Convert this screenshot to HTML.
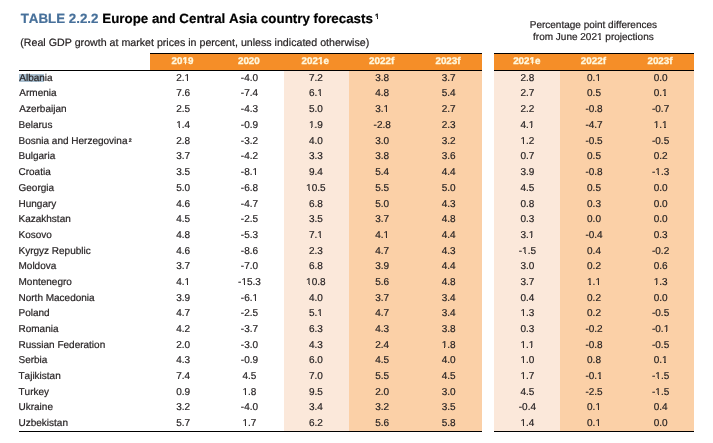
<!DOCTYPE html>
<html><head><meta charset="utf-8"><style>
*{margin:0;padding:0;box-sizing:border-box}
html,body{width:713px;height:443px;overflow:hidden;background:#fff}
body{position:relative;text-rendering:geometricPrecision;font-kerning:none;font-family:"Liberation Sans",Arial,Helvetica,sans-serif;color:#231f20}
.a{position:absolute}
.t{position:absolute;white-space:nowrap;line-height:0;-webkit-text-stroke:0.2px currentColor}
.t>span{display:inline-block;}
.c{text-align:center}
.h{font-weight:bold;color:#fff7dc;font-size:9.8px;-webkit-text-stroke:0.35px currentColor}
.d{font-size:10px}
.lab{font-size:10px}
.rh{transform:scaleY(1);transform-origin:50% 2px}
.st{-webkit-text-stroke:0.2px currentColor}
.t .o{position:relative;display:inline}
.o::before,.o::after{content:"";position:absolute;bottom:calc(0.212em + 1px);height:0.09em;background:var(--bg)}
.o::before{left:0.03em;width:0.215em}
.o::after{left:0.352em;width:0.2em}
.h .o::before,.h .o::after,.bw .o::before,.bw .o::after{height:0.2em;bottom:calc(0.212em - 0.2px)}
.h .o::before,.bw .o::before{left:0.02em;width:0.205em}
.h .o::after,.bw .o::after{left:0.38em;width:0.2em}
.bw .o::after{width:0.3em}
.bw .o::before,.bw .o::after{height:0.3em;bottom:calc(0.212em - 0.5px)}
</style></head><body><div id="w" style="position:absolute;left:0;top:0;width:713px;height:443px;filter:blur(0.35px)">

<div class="a" style="left:284px;top:71px;width:65px;height:359.5px;background:#fbe8da"></div>
<div class="a" style="left:349px;top:71px;width:133px;height:359.5px;background:#fbd0a7"></div>
<div class="a" style="left:494px;top:71px;width:66px;height:359.5px;background:#fbe8da"></div>
<div class="a" style="left:560px;top:71px;width:134px;height:359.5px;background:#fbd0a7"></div>
<div class="a" style="left:150px;top:54px;width:332px;height:16px;background:#f58e28"></div>
<div class="a" style="left:494px;top:54px;width:200px;height:16px;background:#f58e28"></div>
<div class="a" style="left:150px;top:53px;width:332px;height:1px;background:#000"></div>
<div class="a" style="left:494px;top:53px;width:200px;height:1px;background:#000"></div>
<div class="a" style="left:19px;top:70px;width:463px;height:1px;background:#000"></div>
<div class="a" style="left:494px;top:70px;width:200px;height:1px;background:#000"></div>
<div class="a" style="left:19px;top:430.5px;width:463px;height:1.5px;background:#000"></div>
<div class="a" style="left:494px;top:430.5px;width:200px;height:1.5px;background:#000"></div>
<div class="a" style="left:19px;top:73.5px;width:25px;height:8.5px;background:#a9bfd0"></div>
<div class="t h" style="left:152.49px;top:62px;width:60px;text-align:center;--bg:#f58e28">20<span class="o">1</span>9</div>
<div class="t h" style="left:218.87px;top:62px;width:60px;text-align:center">2020</div>
<div class="t h" style="left:285.25px;top:62px;width:60px;text-align:center;--bg:#f58e28">202<span class="o">1</span>e</div>
<div class="t h" style="left:351.63px;top:62px;width:60px;text-align:center">2022f</div>
<div class="t h" style="left:418.01px;top:62px;width:60px;text-align:center">2023f</div>
<div class="t h" style="left:496.8px;top:62px;width:60px;text-align:center;--bg:#f58e28">202<span class="o">1</span>e</div>
<div class="t h" style="left:563.4px;top:62px;width:60px;text-align:center">2022f</div>
<div class="t h" style="left:630px;top:62px;width:60px;text-align:center">2023f</div>
<div class="t lab" style="left:19.3px;top:79px">Albania</div>
<div class="t d" style="left:153.09px;top:79px;width:60px;text-align:center;--bg:#fff">2.<span class="o">1</span></div>
<div class="t d" style="left:219.47px;top:79px;width:60px;text-align:center">-4.0</div>
<div class="t d" style="left:285.85px;top:79px;width:60px;text-align:center">7.2</div>
<div class="t d" style="left:352.23px;top:79px;width:60px;text-align:center">3.8</div>
<div class="t d" style="left:418.61px;top:79px;width:60px;text-align:center">3.7</div>
<div class="t d" style="left:497.4px;top:79px;width:60px;text-align:center">2.8</div>
<div class="t d" style="left:564px;top:79px;width:60px;text-align:center;--bg:#fbd0a7">0.<span class="o">1</span></div>
<div class="t d" style="left:630.6px;top:79px;width:60px;text-align:center">0.0</div>
<div class="t lab" style="left:19.3px;top:94px">Armenia</div>
<div class="t d" style="left:153.09px;top:94px;width:60px;text-align:center">7.6</div>
<div class="t d" style="left:219.47px;top:94px;width:60px;text-align:center">-7.4</div>
<div class="t d" style="left:285.85px;top:94px;width:60px;text-align:center;--bg:#fbe8da">6.<span class="o">1</span></div>
<div class="t d" style="left:352.23px;top:94px;width:60px;text-align:center">4.8</div>
<div class="t d" style="left:418.61px;top:94px;width:60px;text-align:center">5.4</div>
<div class="t d" style="left:497.4px;top:94px;width:60px;text-align:center">2.7</div>
<div class="t d" style="left:564px;top:94px;width:60px;text-align:center">0.5</div>
<div class="t d" style="left:630.6px;top:94px;width:60px;text-align:center;--bg:#fbd0a7">0.<span class="o">1</span></div>
<div class="t lab" style="left:19.3px;top:110px">Azerbaijan</div>
<div class="t d" style="left:153.09px;top:110px;width:60px;text-align:center">2.5</div>
<div class="t d" style="left:219.47px;top:110px;width:60px;text-align:center">-4.3</div>
<div class="t d" style="left:285.85px;top:110px;width:60px;text-align:center">5.0</div>
<div class="t d" style="left:352.23px;top:110px;width:60px;text-align:center;--bg:#fbd0a7">3.<span class="o">1</span></div>
<div class="t d" style="left:418.61px;top:110px;width:60px;text-align:center">2.7</div>
<div class="t d" style="left:497.4px;top:110px;width:60px;text-align:center">2.2</div>
<div class="t d" style="left:564px;top:110px;width:60px;text-align:center">-0.8</div>
<div class="t d" style="left:630.6px;top:110px;width:60px;text-align:center">-0.7</div>
<div class="t lab" style="left:18.5px;top:126px">Belarus</div>
<div class="t d" style="left:153.09px;top:126px;width:60px;text-align:center;--bg:#fff"><span class="o">1</span>.4</div>
<div class="t d" style="left:219.47px;top:126px;width:60px;text-align:center">-0.9</div>
<div class="t d" style="left:285.85px;top:126px;width:60px;text-align:center;--bg:#fbe8da"><span class="o">1</span>.9</div>
<div class="t d" style="left:352.23px;top:126px;width:60px;text-align:center">-2.8</div>
<div class="t d" style="left:418.61px;top:126px;width:60px;text-align:center">2.3</div>
<div class="t d" style="left:497.4px;top:126px;width:60px;text-align:center;--bg:#fbe8da">4.<span class="o">1</span></div>
<div class="t d" style="left:564px;top:126px;width:60px;text-align:center">-4.7</div>
<div class="t d" style="left:630.6px;top:126px;width:60px;text-align:center;--bg:#fbd0a7"><span class="o">1</span>.<span class="o">1</span></div>
<div class="t lab" style="left:18.5px;top:142px">Bosnia and Herzegovina<span style="font-size:5.2px;font-weight:bold;position:relative;top:-2.4px;margin-left:1.2px">2</span></div>
<div class="t d" style="left:153.09px;top:142px;width:60px;text-align:center">2.8</div>
<div class="t d" style="left:219.47px;top:142px;width:60px;text-align:center">-3.2</div>
<div class="t d" style="left:285.85px;top:142px;width:60px;text-align:center">4.0</div>
<div class="t d" style="left:352.23px;top:142px;width:60px;text-align:center">3.0</div>
<div class="t d" style="left:418.61px;top:142px;width:60px;text-align:center">3.2</div>
<div class="t d" style="left:497.4px;top:142px;width:60px;text-align:center;--bg:#fbe8da"><span class="o">1</span>.2</div>
<div class="t d" style="left:564px;top:142px;width:60px;text-align:center">-0.5</div>
<div class="t d" style="left:630.6px;top:142px;width:60px;text-align:center">-0.5</div>
<div class="t lab" style="left:18.5px;top:157px">Bulgaria</div>
<div class="t d" style="left:153.09px;top:157px;width:60px;text-align:center">3.7</div>
<div class="t d" style="left:219.47px;top:157px;width:60px;text-align:center">-4.2</div>
<div class="t d" style="left:285.85px;top:157px;width:60px;text-align:center">3.3</div>
<div class="t d" style="left:352.23px;top:157px;width:60px;text-align:center">3.8</div>
<div class="t d" style="left:418.61px;top:157px;width:60px;text-align:center">3.6</div>
<div class="t d" style="left:497.4px;top:157px;width:60px;text-align:center">0.7</div>
<div class="t d" style="left:564px;top:157px;width:60px;text-align:center">0.5</div>
<div class="t d" style="left:630.6px;top:157px;width:60px;text-align:center">0.2</div>
<div class="t lab" style="left:18.5px;top:173px">Croatia</div>
<div class="t d" style="left:153.09px;top:173px;width:60px;text-align:center">3.5</div>
<div class="t d" style="left:219.47px;top:173px;width:60px;text-align:center;--bg:#fff">-8.<span class="o">1</span></div>
<div class="t d" style="left:285.85px;top:173px;width:60px;text-align:center">9.4</div>
<div class="t d" style="left:352.23px;top:173px;width:60px;text-align:center">5.4</div>
<div class="t d" style="left:418.61px;top:173px;width:60px;text-align:center">4.4</div>
<div class="t d" style="left:497.4px;top:173px;width:60px;text-align:center">3.9</div>
<div class="t d" style="left:564px;top:173px;width:60px;text-align:center">-0.8</div>
<div class="t d" style="left:630.6px;top:173px;width:60px;text-align:center;--bg:#fbd0a7">-<span class="o">1</span>.3</div>
<div class="t lab" style="left:18.5px;top:189px">Georgia</div>
<div class="t d" style="left:153.09px;top:189px;width:60px;text-align:center">5.0</div>
<div class="t d" style="left:219.47px;top:189px;width:60px;text-align:center">-6.8</div>
<div class="t d" style="left:285.85px;top:189px;width:60px;text-align:center;--bg:#fbe8da"><span class="o">1</span>0.5</div>
<div class="t d" style="left:352.23px;top:189px;width:60px;text-align:center">5.5</div>
<div class="t d" style="left:418.61px;top:189px;width:60px;text-align:center">5.0</div>
<div class="t d" style="left:497.4px;top:189px;width:60px;text-align:center">4.5</div>
<div class="t d" style="left:564px;top:189px;width:60px;text-align:center">0.5</div>
<div class="t d" style="left:630.6px;top:189px;width:60px;text-align:center">0.0</div>
<div class="t lab" style="left:18.5px;top:205px">Hungary</div>
<div class="t d" style="left:153.09px;top:205px;width:60px;text-align:center">4.6</div>
<div class="t d" style="left:219.47px;top:205px;width:60px;text-align:center">-4.7</div>
<div class="t d" style="left:285.85px;top:205px;width:60px;text-align:center">6.8</div>
<div class="t d" style="left:352.23px;top:205px;width:60px;text-align:center">5.0</div>
<div class="t d" style="left:418.61px;top:205px;width:60px;text-align:center">4.3</div>
<div class="t d" style="left:497.4px;top:205px;width:60px;text-align:center">0.8</div>
<div class="t d" style="left:564px;top:205px;width:60px;text-align:center">0.3</div>
<div class="t d" style="left:630.6px;top:205px;width:60px;text-align:center">0.0</div>
<div class="t lab" style="left:18.5px;top:220px">Kazakhstan</div>
<div class="t d" style="left:153.09px;top:220px;width:60px;text-align:center">4.5</div>
<div class="t d" style="left:219.47px;top:220px;width:60px;text-align:center">-2.5</div>
<div class="t d" style="left:285.85px;top:220px;width:60px;text-align:center">3.5</div>
<div class="t d" style="left:352.23px;top:220px;width:60px;text-align:center">3.7</div>
<div class="t d" style="left:418.61px;top:220px;width:60px;text-align:center">4.8</div>
<div class="t d" style="left:497.4px;top:220px;width:60px;text-align:center">0.3</div>
<div class="t d" style="left:564px;top:220px;width:60px;text-align:center">0.0</div>
<div class="t d" style="left:630.6px;top:220px;width:60px;text-align:center">0.0</div>
<div class="t lab" style="left:18.5px;top:236px">Kosovo</div>
<div class="t d" style="left:153.09px;top:236px;width:60px;text-align:center">4.8</div>
<div class="t d" style="left:219.47px;top:236px;width:60px;text-align:center">-5.3</div>
<div class="t d" style="left:285.85px;top:236px;width:60px;text-align:center;--bg:#fbe8da">7.<span class="o">1</span></div>
<div class="t d" style="left:352.23px;top:236px;width:60px;text-align:center;--bg:#fbd0a7">4.<span class="o">1</span></div>
<div class="t d" style="left:418.61px;top:236px;width:60px;text-align:center">4.4</div>
<div class="t d" style="left:497.4px;top:236px;width:60px;text-align:center;--bg:#fbe8da">3.<span class="o">1</span></div>
<div class="t d" style="left:564px;top:236px;width:60px;text-align:center">-0.4</div>
<div class="t d" style="left:630.6px;top:236px;width:60px;text-align:center">0.3</div>
<div class="t lab" style="left:18.5px;top:252px">Kyrgyz Republic</div>
<div class="t d" style="left:153.09px;top:252px;width:60px;text-align:center">4.6</div>
<div class="t d" style="left:219.47px;top:252px;width:60px;text-align:center">-8.6</div>
<div class="t d" style="left:285.85px;top:252px;width:60px;text-align:center">2.3</div>
<div class="t d" style="left:352.23px;top:252px;width:60px;text-align:center">4.7</div>
<div class="t d" style="left:418.61px;top:252px;width:60px;text-align:center">4.3</div>
<div class="t d" style="left:497.4px;top:252px;width:60px;text-align:center;--bg:#fbe8da">-<span class="o">1</span>.5</div>
<div class="t d" style="left:564px;top:252px;width:60px;text-align:center">0.4</div>
<div class="t d" style="left:630.6px;top:252px;width:60px;text-align:center">-0.2</div>
<div class="t lab" style="left:18.5px;top:267px">Moldova</div>
<div class="t d" style="left:153.09px;top:267px;width:60px;text-align:center">3.7</div>
<div class="t d" style="left:219.47px;top:267px;width:60px;text-align:center">-7.0</div>
<div class="t d" style="left:285.85px;top:267px;width:60px;text-align:center">6.8</div>
<div class="t d" style="left:352.23px;top:267px;width:60px;text-align:center">3.9</div>
<div class="t d" style="left:418.61px;top:267px;width:60px;text-align:center">4.4</div>
<div class="t d" style="left:497.4px;top:267px;width:60px;text-align:center">3.0</div>
<div class="t d" style="left:564px;top:267px;width:60px;text-align:center">0.2</div>
<div class="t d" style="left:630.6px;top:267px;width:60px;text-align:center">0.6</div>
<div class="t lab" style="left:18.5px;top:283px">Montenegro</div>
<div class="t d" style="left:153.09px;top:283px;width:60px;text-align:center;--bg:#fff">4.<span class="o">1</span></div>
<div class="t d" style="left:219.47px;top:283px;width:60px;text-align:center;--bg:#fff">-<span class="o">1</span>5.3</div>
<div class="t d" style="left:285.85px;top:283px;width:60px;text-align:center;--bg:#fbe8da"><span class="o">1</span>0.8</div>
<div class="t d" style="left:352.23px;top:283px;width:60px;text-align:center">5.6</div>
<div class="t d" style="left:418.61px;top:283px;width:60px;text-align:center">4.8</div>
<div class="t d" style="left:497.4px;top:283px;width:60px;text-align:center">3.7</div>
<div class="t d" style="left:564px;top:283px;width:60px;text-align:center;--bg:#fbd0a7"><span class="o">1</span>.<span class="o">1</span></div>
<div class="t d" style="left:630.6px;top:283px;width:60px;text-align:center;--bg:#fbd0a7"><span class="o">1</span>.3</div>
<div class="t lab" style="left:18.5px;top:299px">North Macedonia</div>
<div class="t d" style="left:153.09px;top:299px;width:60px;text-align:center">3.9</div>
<div class="t d" style="left:219.47px;top:299px;width:60px;text-align:center;--bg:#fff">-6.<span class="o">1</span></div>
<div class="t d" style="left:285.85px;top:299px;width:60px;text-align:center">4.0</div>
<div class="t d" style="left:352.23px;top:299px;width:60px;text-align:center">3.7</div>
<div class="t d" style="left:418.61px;top:299px;width:60px;text-align:center">3.4</div>
<div class="t d" style="left:497.4px;top:299px;width:60px;text-align:center">0.4</div>
<div class="t d" style="left:564px;top:299px;width:60px;text-align:center">0.2</div>
<div class="t d" style="left:630.6px;top:299px;width:60px;text-align:center">0.0</div>
<div class="t lab" style="left:18.5px;top:314px">Poland</div>
<div class="t d" style="left:153.09px;top:314px;width:60px;text-align:center">4.7</div>
<div class="t d" style="left:219.47px;top:314px;width:60px;text-align:center">-2.5</div>
<div class="t d" style="left:285.85px;top:314px;width:60px;text-align:center;--bg:#fbe8da">5.<span class="o">1</span></div>
<div class="t d" style="left:352.23px;top:314px;width:60px;text-align:center">4.7</div>
<div class="t d" style="left:418.61px;top:314px;width:60px;text-align:center">3.4</div>
<div class="t d" style="left:497.4px;top:314px;width:60px;text-align:center;--bg:#fbe8da"><span class="o">1</span>.3</div>
<div class="t d" style="left:564px;top:314px;width:60px;text-align:center">0.2</div>
<div class="t d" style="left:630.6px;top:314px;width:60px;text-align:center">-0.5</div>
<div class="t lab" style="left:18.5px;top:330px">Romania</div>
<div class="t d" style="left:153.09px;top:330px;width:60px;text-align:center">4.2</div>
<div class="t d" style="left:219.47px;top:330px;width:60px;text-align:center">-3.7</div>
<div class="t d" style="left:285.85px;top:330px;width:60px;text-align:center">6.3</div>
<div class="t d" style="left:352.23px;top:330px;width:60px;text-align:center">4.3</div>
<div class="t d" style="left:418.61px;top:330px;width:60px;text-align:center">3.8</div>
<div class="t d" style="left:497.4px;top:330px;width:60px;text-align:center">0.3</div>
<div class="t d" style="left:564px;top:330px;width:60px;text-align:center">-0.2</div>
<div class="t d" style="left:630.6px;top:330px;width:60px;text-align:center;--bg:#fbd0a7">-0.<span class="o">1</span></div>
<div class="t lab" style="left:18.5px;top:346px">Russian Federation</div>
<div class="t d" style="left:153.09px;top:346px;width:60px;text-align:center">2.0</div>
<div class="t d" style="left:219.47px;top:346px;width:60px;text-align:center">-3.0</div>
<div class="t d" style="left:285.85px;top:346px;width:60px;text-align:center">4.3</div>
<div class="t d" style="left:352.23px;top:346px;width:60px;text-align:center">2.4</div>
<div class="t d" style="left:418.61px;top:346px;width:60px;text-align:center;--bg:#fbd0a7"><span class="o">1</span>.8</div>
<div class="t d" style="left:497.4px;top:346px;width:60px;text-align:center;--bg:#fbe8da"><span class="o">1</span>.<span class="o">1</span></div>
<div class="t d" style="left:564px;top:346px;width:60px;text-align:center">-0.8</div>
<div class="t d" style="left:630.6px;top:346px;width:60px;text-align:center">-0.5</div>
<div class="t lab" style="left:18.5px;top:361px">Serbia</div>
<div class="t d" style="left:153.09px;top:361px;width:60px;text-align:center">4.3</div>
<div class="t d" style="left:219.47px;top:361px;width:60px;text-align:center">-0.9</div>
<div class="t d" style="left:285.85px;top:361px;width:60px;text-align:center">6.0</div>
<div class="t d" style="left:352.23px;top:361px;width:60px;text-align:center">4.5</div>
<div class="t d" style="left:418.61px;top:361px;width:60px;text-align:center">4.0</div>
<div class="t d" style="left:497.4px;top:361px;width:60px;text-align:center;--bg:#fbe8da"><span class="o">1</span>.0</div>
<div class="t d" style="left:564px;top:361px;width:60px;text-align:center">0.8</div>
<div class="t d" style="left:630.6px;top:361px;width:60px;text-align:center;--bg:#fbd0a7">0.<span class="o">1</span></div>
<div class="t lab" style="left:18.5px;top:377px">Tajikistan</div>
<div class="t d" style="left:153.09px;top:377px;width:60px;text-align:center">7.4</div>
<div class="t d" style="left:219.47px;top:377px;width:60px;text-align:center">4.5</div>
<div class="t d" style="left:285.85px;top:377px;width:60px;text-align:center">7.0</div>
<div class="t d" style="left:352.23px;top:377px;width:60px;text-align:center">5.5</div>
<div class="t d" style="left:418.61px;top:377px;width:60px;text-align:center">4.5</div>
<div class="t d" style="left:497.4px;top:377px;width:60px;text-align:center;--bg:#fbe8da"><span class="o">1</span>.7</div>
<div class="t d" style="left:564px;top:377px;width:60px;text-align:center;--bg:#fbd0a7">-0.<span class="o">1</span></div>
<div class="t d" style="left:630.6px;top:377px;width:60px;text-align:center;--bg:#fbd0a7">-<span class="o">1</span>.5</div>
<div class="t lab" style="left:18.5px;top:393px">Turkey</div>
<div class="t d" style="left:153.09px;top:393px;width:60px;text-align:center">0.9</div>
<div class="t d" style="left:219.47px;top:393px;width:60px;text-align:center;--bg:#fff"><span class="o">1</span>.8</div>
<div class="t d" style="left:285.85px;top:393px;width:60px;text-align:center">9.5</div>
<div class="t d" style="left:352.23px;top:393px;width:60px;text-align:center">2.0</div>
<div class="t d" style="left:418.61px;top:393px;width:60px;text-align:center">3.0</div>
<div class="t d" style="left:497.4px;top:393px;width:60px;text-align:center">4.5</div>
<div class="t d" style="left:564px;top:393px;width:60px;text-align:center">-2.5</div>
<div class="t d" style="left:630.6px;top:393px;width:60px;text-align:center;--bg:#fbd0a7">-<span class="o">1</span>.5</div>
<div class="t lab" style="left:18.5px;top:408px">Ukraine</div>
<div class="t d" style="left:153.09px;top:408px;width:60px;text-align:center">3.2</div>
<div class="t d" style="left:219.47px;top:408px;width:60px;text-align:center">-4.0</div>
<div class="t d" style="left:285.85px;top:408px;width:60px;text-align:center">3.4</div>
<div class="t d" style="left:352.23px;top:408px;width:60px;text-align:center">3.2</div>
<div class="t d" style="left:418.61px;top:408px;width:60px;text-align:center">3.5</div>
<div class="t d" style="left:497.4px;top:408px;width:60px;text-align:center">-0.4</div>
<div class="t d" style="left:564px;top:408px;width:60px;text-align:center;--bg:#fbd0a7">0.<span class="o">1</span></div>
<div class="t d" style="left:630.6px;top:408px;width:60px;text-align:center">0.4</div>
<div class="t lab" style="left:18.5px;top:424px">Uzbekistan</div>
<div class="t d" style="left:153.09px;top:424px;width:60px;text-align:center">5.7</div>
<div class="t d" style="left:219.47px;top:424px;width:60px;text-align:center;--bg:#fff"><span class="o">1</span>.7</div>
<div class="t d" style="left:285.85px;top:424px;width:60px;text-align:center">6.2</div>
<div class="t d" style="left:352.23px;top:424px;width:60px;text-align:center">5.6</div>
<div class="t d" style="left:418.61px;top:424px;width:60px;text-align:center">5.8</div>
<div class="t d" style="left:497.4px;top:424px;width:60px;text-align:center;--bg:#fbe8da"><span class="o">1</span>.4</div>
<div class="t d" style="left:564px;top:424px;width:60px;text-align:center;--bg:#fbd0a7">0.<span class="o">1</span></div>
<div class="t d" style="left:630.6px;top:424px;width:60px;text-align:center">0.0</div>
<div class="t" style="left:20.65px;top:19px;font-size:13.35px;font-weight:bold;letter-spacing:0px"><span style="color:#47709a">TABLE 2.2.2</span> <span style="color:#000">Europe and Central Asia country forecasts</span><span style="font-size:7.5px;font-weight:bold;position:relative;top:-4.3px;margin-left:2.2px;letter-spacing:0;color:#000;--bg:#fff" class="bw"><span class="o">1</span></span></div>
<div class="t" style="left:20.3px;top:43px;font-size:10.65px;letter-spacing:0px;color:#231f20">(Real GDP growth at market prices in percent, unless indicated otherwise)</div>
<div class="t rh" style="left:493.4px;top:26px;width:200px;text-align:center;font-size:10px;letter-spacing:0px;color:#231f20">Percentage point differences</div>
<div class="t rh" style="left:493.4px;top:38px;width:200px;text-align:center;font-size:10px;letter-spacing:0px;color:#231f20;--bg:#fff">from June 202<span class="o">1</span> projections</div>
</div></body></html>
